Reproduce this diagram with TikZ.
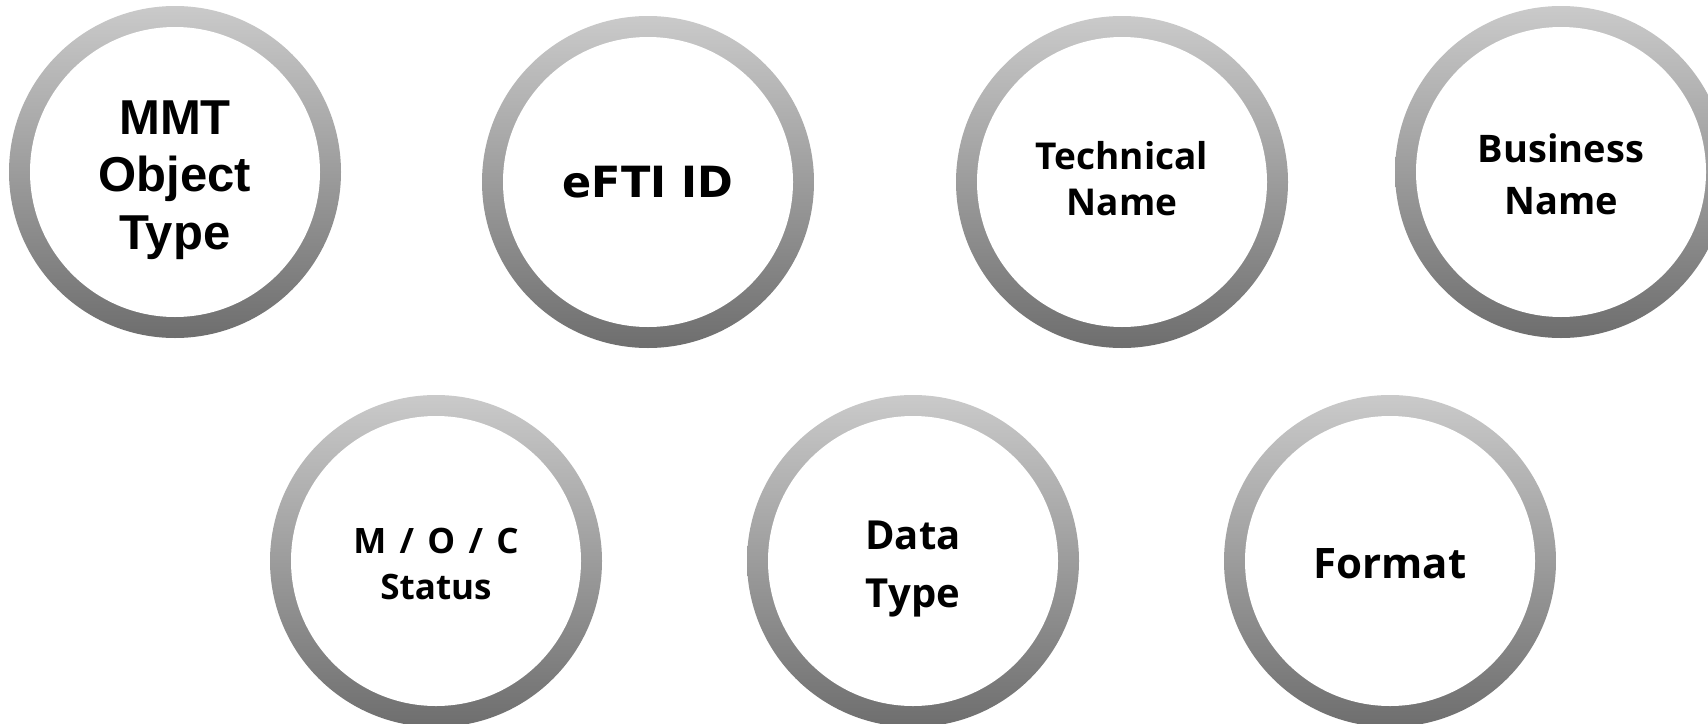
\documentclass[tikz,border=0pt]{standalone}
\usepackage{fontspec}
\setmainfont{Liberation Sans}
\newfontfamily\arialfont{Liberation Sans}
\newfontfamily\dejavufont{DejaVu Sans}
\newfontfamily\gillfont{Open Sans}

\definecolor{ringtop}{RGB}{202,202,202}
\definecolor{ringbot}{RGB}{110,110,110}

\begin{document}
\begin{tikzpicture}[x=1pt,y=-1pt,
    ring/.style={circle, inner sep=0pt, minimum size=332pt,
        top color=ringtop, bottom color=ringbot,
        path picture={\fill[white] (path picture bounding box.center) circle (145pt);}},
    lbl/.style={align=center, inner sep=0pt}]
        \clip (0,0) rectangle (1708,723);
        \fill[white] (0,0) rectangle (1708,723);

        % top row
        \node[ring] (mmt) at (175,172) {};
        \node[ring] (efti) at (648,182) {};
        \node[ring] (tech) at (1122,182) {};
        \node[ring] (bus) at (1561,172) {};

        % bottom row
        \node[ring] (moc) at (436,561) {};
        \node[ring] (dtype) at (913,561) {};
        \node[ring] (fmt) at (1390,561) {};

        % labels
        \node[lbl, font=\arialfont\bfseries\fontsize{49}{57.5}\selectfont] (mmt-txt) at (175,180) {MMT\\Object\\Type};
        \node[lbl, font=\dejavufont\bfseries\fontsize{43}{48}\selectfont] (efti-txt) at (648,182) {eFTI ID};
        \node[lbl, font=\gillfont\bfseries\fontsize{37}{46}\selectfont] (tech-txt) at (1122,179) {Technical\\Name};
        \node[lbl, font=\gillfont\bfseries\fontsize{38}{52}\selectfont] (bus-txt) at (1561,174) {Business\\Name};
        \node[lbl, font=\gillfont\bfseries\fontsize{35}{46}\selectfont] (moc-txt) at (436,564) {M\hspace{0.12em} / \hspace{0.12em}O\hspace{0.12em} / \hspace{0.12em}C\\Status};
        \node[lbl, font=\gillfont\bfseries\fontsize{40}{58}\selectfont] (dtype-txt) at (913,569) {Data\\Type};
        \node[lbl, font=\gillfont\bfseries\fontsize{42}{46}\selectfont] (fmt-txt) at (1390,564) {Format};
    \end{tikzpicture}
\end{document}
